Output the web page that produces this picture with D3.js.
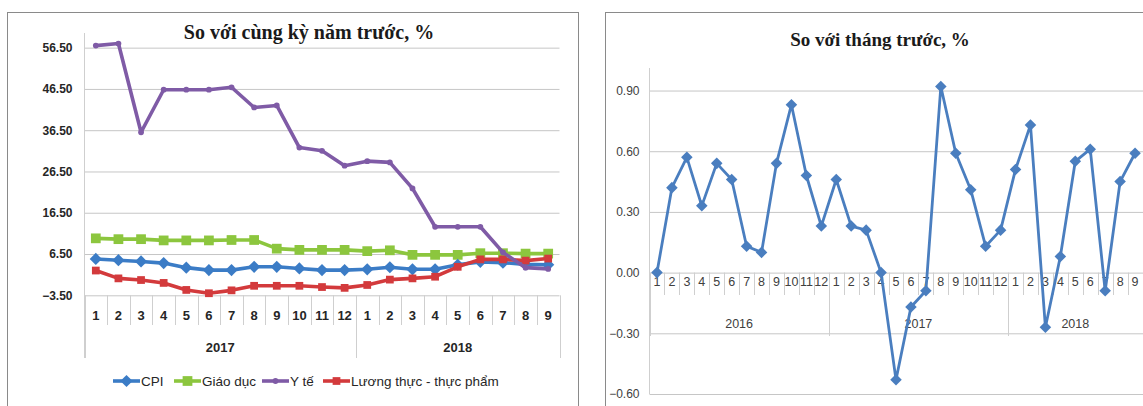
<!DOCTYPE html>
<html>
<head>
<meta charset="utf-8">
<script src="https://cdnjs.cloudflare.com/ajax/libs/d3/7.8.5/d3.min.js"></script>
<style>
  html, body { margin: 0; padding: 0; background: #fff; }
  svg { display: block; }
</style>
</head>
<body>
<svg id="chart" width="1143" height="406"></svg>
<script>
// ---- Year-on-year chart (2017-01 .. 2018-09) ----
const yoyYears = ["2017", "2018"];
const yoyMonthCounts = [12, 9];
const yoyMonths = [1,2,3,4,5,6,7,8,9,10,11,12, 1,2,3,4,5,6,7,8,9];
const cpiYoY      = [5.3, 5.0, 4.7, 4.3, 3.2, 2.6, 2.6, 3.4, 3.4, 3.0, 2.6, 2.6, 2.8, 3.3, 2.8, 2.8, 3.9, 4.6, 4.4, 4.0, 3.9];
const educationYoY = [10.3, 10.1, 10.1, 9.8, 9.8, 9.8, 9.9, 9.9, 7.8, 7.5, 7.5, 7.5, 7.2, 7.4, 6.3, 6.3, 6.3, 6.7, 6.7, 6.6, 6.6];
const healthYoY   = [57.0, 57.5, 36.0, 46.3, 46.3, 46.3, 46.9, 42.0, 42.5, 32.3, 31.5, 27.9, 29.0, 28.7, 22.4, 13.1, 13.1, 13.1, 6.9, 3.2, 2.9];
const foodYoY     = [2.5, 0.6, 0.2, -0.5, -2.2, -3.0, -2.3, -1.2, -1.2, -1.2, -1.5, -1.7, -1.0, 0.3, 0.6, 1.0, 3.4, 5.2, 5.2, 4.9, 5.4];
const yoyTicks = [-3.5, 6.5, 16.5, 26.5, 36.5, 46.5, 56.5];
const yoySeriesNames = ["CPI", "Giáo dục", "Y tế", "Lương thực - thực phẩm"];

// ---- Month-on-month chart (2016-01 .. 2018-09) ----
const momYears = ["2016", "2017", "2018"];
const momMonthCounts = [12, 12, 9];
const momMonths = [1,2,3,4,5,6,7,8,9,10,11,12, 1,2,3,4,5,6,7,8,9,10,11,12, 1,2,3,4,5,6,7,8,9];
const cpiMoM = [0.00, 0.42, 0.57, 0.33, 0.54, 0.46, 0.13, 0.10, 0.54, 0.83, 0.48, 0.23,
                0.46, 0.23, 0.21, 0.00, -0.53, -0.17, -0.09, 0.92, 0.59, 0.41, 0.13, 0.21,
                0.51, 0.73, -0.27, 0.08, 0.55, 0.61, -0.09, 0.45, 0.59];
const momTicks = [-0.6, -0.3, 0.0, 0.3, 0.6, 0.9];

const svg = d3.select("#chart");
const gridColor = "#c6c6c6";
const frameColor = "#8a8a8a";
const sepColor = "#cfcfcf";
const labelFont = "Liberation Sans, Arial, sans-serif";

function diamond(s) { return d3.symbol().type(d3.symbolDiamond2 || d3.symbolDiamond).size(s); }

// ================= Left chart =================
(function () {
  const g = svg.append("g");
  g.append("rect").attr("x", 7.5).attr("y", 12.5).attr("width", 571).attr("height", 420)
    .attr("fill", "#fff").attr("stroke", frameColor);

  g.append("text").attr("x", 309).attr("y", 39)
    .attr("text-anchor", "middle")
    .attr("font-family", "Liberation Serif, Times New Roman, serif")
    .attr("font-weight", "bold").attr("font-size", 20).attr("fill", "#1a1a1a")
    .text("So với cùng kỳ năm trước, %");

  const idx = d3.range(yoyMonths.length);
  const x = d3.scaleBand().domain(idx).range([84.5, 559.5]).padding(0);
  const y = d3.scaleLinear().domain([-3.5, 60]).range([295.3, 33.2]);

  // gridlines + y labels
  const yAxis = g.append("g").attr("transform", "translate(84.5,0)")
    .call(d3.axisLeft(y).tickValues(yoyTicks).tickFormat(d3.format(".2f"))
      .tickSize(-475).tickPadding(12));
  yAxis.select(".domain").remove();
  yAxis.selectAll(".tick line").attr("stroke", gridColor).attr("stroke-width", 1);
  yAxis.selectAll(".tick text")
    .attr("font-family", labelFont)
    .attr("font-weight", "bold").attr("font-size", 12).attr("fill", "#262626");

  // vertical axis line
  g.append("line").attr("x1", 84.5).attr("x2", 84.5).attr("y1", 33).attr("y2", 358)
    .attr("stroke", sepColor);

  // category separators
  const boundaries = d3.range(yoyMonths.length + 1);
  const yearEdges = [0];
  yoyMonthCounts.reduce((a, c) => { yearEdges.push(a + c); return a + c; }, 0);
  g.append("g").selectAll("line").data(boundaries).join("line")
    .attr("x1", i => Math.round(84.5 + i * x.bandwidth()) + 0.5)
    .attr("x2", i => Math.round(84.5 + i * x.bandwidth()) + 0.5)
    .attr("y1", 295.3)
    .attr("y2", i => yearEdges.includes(i) ? 358 : 325)
    .attr("stroke", sepColor);

  // month labels
  const xAxis = g.append("g").attr("transform", "translate(0,295.3)")
    .call(d3.axisBottom(x).tickSize(0).tickPadding(15).tickFormat(i => yoyMonths[i]));
  xAxis.select(".domain").remove();
  xAxis.selectAll("text")
    .attr("font-family", labelFont)
    .attr("font-weight", "bold").attr("font-size", 13).attr("fill", "#262626");

  // year labels
  g.append("g").selectAll("text").data(yoyYears).join("text")
    .attr("x", (d, k) => 84.5 + (yearEdges[k] + yearEdges[k + 1]) / 2 * x.bandwidth())
    .attr("y", 352)
    .attr("text-anchor", "middle")
    .attr("font-family", labelFont)
    .attr("font-weight", "bold").attr("font-size", 13).attr("fill", "#262626")
    .text(d => d);

  const series = [
    { name: yoySeriesNames[1], values: educationYoY, color: "#8cc63e", marker: "square", size: 95 },
    { name: yoySeriesNames[0], values: cpiYoY,       color: "#3b7cc6", marker: "diamond", size: 95 },
    { name: yoySeriesNames[3], values: foodYoY,      color: "#d33a3c", marker: "square", size: 60 },
    { name: yoySeriesNames[2], values: healthYoY,    color: "#7f5ba6", marker: "circle", size: 26 }
  ];
  const line = d3.line().x((d, i) => x(i) + x.bandwidth() / 2).y(d => y(d));
  const symbolFor = s => s.marker === "square" ? d3.symbol().type(d3.symbolSquare).size(s.size)
    : s.marker === "diamond" ? diamond(s.size) : d3.symbol().type(d3.symbolCircle).size(s.size);

  series.forEach(s => {
    g.append("path").datum(s.values).attr("d", line)
      .attr("fill", "none").attr("stroke", s.color).attr("stroke-width", 3.6)
      .attr("stroke-linejoin", "round");
    g.append("g").selectAll("path").data(s.values).join("path")
      .attr("transform", (d, i) => `translate(${x(i) + x.bandwidth() / 2},${y(d)})`)
      .attr("d", symbolFor(s)).attr("fill", s.color);
  });

  // legend
  const legendItems = [
    { s: series[1], x0: 113, label: yoySeriesNames[0] },
    { s: series[0], x0: 174, label: yoySeriesNames[1] },
    { s: series[3], x0: 262, label: yoySeriesNames[2] },
    { s: series[2], x0: 323, label: yoySeriesNames[3] }
  ];
  const lg = g.append("g");
  legendItems.forEach(it => {
    lg.append("line").attr("x1", it.x0).attr("x2", it.x0 + 27).attr("y1", 381).attr("y2", 381)
      .attr("stroke", it.s.color).attr("stroke-width", 3.6);
    lg.append("path").attr("transform", `translate(${it.x0 + 13.5},381)`)
      .attr("d", symbolFor(it.s)).attr("fill", it.s.color);
    lg.append("text").attr("x", it.x0 + 28).attr("y", 386)
      .attr("font-family", labelFont)
      .attr("font-size", 13.5).attr("fill", "#262626")
      .text(it.label);
  });
})();

// ================= Right chart =================
(function () {
  const g = svg.append("g");
  g.append("rect").attr("x", 605.5).attr("y", 12.5).attr("width", 560).attr("height", 420)
    .attr("fill", "#fff").attr("stroke", frameColor);

  g.append("text").attr("x", 880).attr("y", 46)
    .attr("text-anchor", "middle")
    .attr("font-family", "Liberation Serif, Times New Roman, serif")
    .attr("font-weight", "bold").attr("font-size", 19).attr("fill", "#1a1a1a")
    .text("So với tháng trước, %");

  const idx = d3.range(momMonths.length);
  const x = d3.scaleBand().domain(idx).range([649.5, 649.5 + 33 * 14.94]).padding(0);
  const y = d3.scaleLinear().domain([-0.6, 1.0]).range([394, 70.3]);

  const yAxis = g.append("g").attr("transform", "translate(649.5,0)")
    .call(d3.axisLeft(y).tickValues(momTicks).tickFormat(d3.format(".2f"))
      .tickSize(-500).tickPadding(10));
  yAxis.select(".domain").remove();
  yAxis.selectAll(".tick line").attr("stroke", gridColor).attr("stroke-width", 1);
  yAxis.selectAll(".tick text")
    .attr("font-family", labelFont)
    .attr("font-size", 12).attr("fill", "#404040");

  g.append("line").attr("x1", 649.5).attr("x2", 649.5).attr("y1", 68).attr("y2", 394)
    .attr("stroke", sepColor);

  const yearEdges = [0];
  momMonthCounts.reduce((a, c) => { yearEdges.push(a + c); return a + c; }, 0);
  const y0 = y(0);
  g.append("g").selectAll("line").data(d3.range(momMonths.length + 1)).join("line")
    .attr("x1", i => Math.round(649.5 + i * x.bandwidth()) + 0.5)
    .attr("x2", i => Math.round(649.5 + i * x.bandwidth()) + 0.5)
    .attr("y1", y0)
    .attr("y2", i => yearEdges.includes(i) ? 336 : 295)
    .attr("stroke", sepColor);

  const xAxis = g.append("g").attr("transform", `translate(0,${y0})`)
    .call(d3.axisBottom(x).tickSize(0).tickPadding(5).tickFormat(i => momMonths[i]));
  xAxis.select(".domain").remove();
  xAxis.selectAll("text")
    .attr("font-family", labelFont)
    .attr("font-size", 12.5).attr("fill", "#404040");

  g.append("g").selectAll("text").data(momYears).join("text")
    .attr("x", (d, k) => 649.5 + (yearEdges[k] + yearEdges[k + 1]) / 2 * x.bandwidth())
    .attr("y", 327.5)
    .attr("text-anchor", "middle")
    .attr("font-family", labelFont)
    .attr("font-size", 12.5).attr("fill", "#404040")
    .text(d => d);

  const color = "#4a7ebf";
  const line = d3.line().x((d, i) => x(i) + x.bandwidth() / 2).y(d => y(d));
  g.append("path").datum(cpiMoM).attr("d", line)
    .attr("fill", "none").attr("stroke", color).attr("stroke-width", 2.8)
    .attr("stroke-linejoin", "round");
  g.append("g").selectAll("path").data(cpiMoM).join("path")
    .attr("transform", (d, i) => `translate(${x(i) + x.bandwidth() / 2},${y(d)})`)
    .attr("d", diamond(85)).attr("fill", color);
})();
</script>
</body>
</html>
